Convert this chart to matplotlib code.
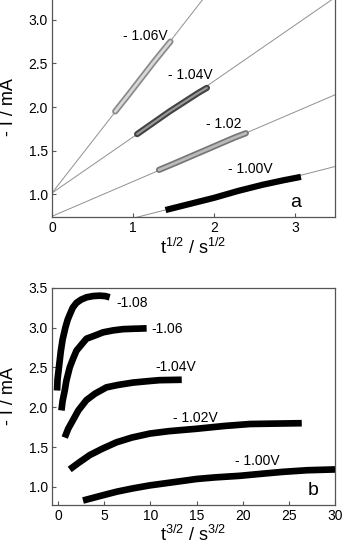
import matplotlib
matplotlib.use('Agg')
import matplotlib.pyplot as plt
import matplotlib.patheffects as pe
import numpy as np

plt.rcParams['font.family'] = ['Liberation Sans', 'DejaVu Sans']

# panel a: -I vs t^1/2 (data bands) with fitted lines
a106_x = [0.78, 0.95, 1.10, 1.25, 1.38, 1.46]
a106_y = [1.95, 2.15, 2.33, 2.51, 2.66, 2.75]
a104_x = [1.05, 1.25, 1.45, 1.65, 1.80, 1.91]
a104_y = [1.69, 1.82, 1.95, 2.07, 2.16, 2.22]
a102_x = [1.32, 1.55, 1.80, 2.05, 2.25, 2.39]
a102_y = [1.28, 1.37, 1.47, 1.57, 1.65, 1.70]
a100_x = [1.40, 1.70, 2.00, 2.30, 2.60, 2.85, 3.07]
a100_y = [0.82, 0.89, 0.96, 1.04, 1.11, 1.16, 1.20]

# fitted lines: intercept, slope
fit_intercepts = [1.015, 1.015, 0.748, 0.488]
fit_slopes = [1.193, 0.642, 0.399, 0.238]

# panel b: -I vs t^3/2
b108_x = [-0.1, -0.05, 0.1, 0.3, 0.5, 0.8, 1.05, 1.3, 1.6, 2.0, 2.5, 3.1, 3.8, 4.5, 5.1, 5.6]
b108_y = [2.21, 2.35, 2.50, 2.70, 2.85, 3.00, 3.10, 3.17, 3.25, 3.31, 3.35, 3.38, 3.395, 3.40, 3.395, 3.38]
b106_x = [0.37, 0.5, 0.73, 0.9, 1.27, 1.6, 2.0, 2.5, 3.08, 4.0, 4.88, 6.0, 7.05, 8.2, 9.6]
b106_y = [1.96, 2.08, 2.21, 2.33, 2.50, 2.60, 2.71, 2.78, 2.86, 2.90, 2.94, 2.965, 2.98, 2.985, 2.99]
b104_x = [0.73, 1.1, 1.63, 2.2, 3.08, 4.0, 5.25, 6.5, 8.14, 10.0, 11.0, 13.4]
b104_y = [1.62, 1.73, 1.84, 1.96, 2.09, 2.17, 2.25, 2.28, 2.31, 2.33, 2.34, 2.345]
b102_x = [1.27, 2.2, 3.44, 4.8, 6.33, 8.0, 9.95, 12.0, 15.0, 18.0, 20.8, 23.5, 26.4]
b102_y = [1.22, 1.30, 1.40, 1.48, 1.56, 1.62, 1.67, 1.70, 1.73, 1.765, 1.79, 1.795, 1.80]
b100_x = [2.71, 4.5, 6.33, 8.0, 9.95, 12.5, 15.0, 17.0, 19.7, 22.0, 24.4, 27.0, 30.0]
b100_y = [0.83, 0.885, 0.94, 0.98, 1.02, 1.06, 1.10, 1.12, 1.14, 1.165, 1.19, 1.21, 1.22]

fig = plt.figure(figsize=(3.43, 5.52), dpi=100)
ax1 = fig.add_axes([52/343, 335/552, 283/343, 219/552])
ax2 = fig.add_axes([52/343, 46.7/552, 283/343, 217.6/552])

for ax in (ax1, ax2):
    for s in ax.spines.values():
        s.set_color('#555555')
        s.set_linewidth(0.9)
    ax.tick_params(direction='in', length=3, width=0.8, color='#555555',
                   labelsize=10, pad=3)

# panel a
xx = np.array([0, 3.5])
for b0, m in zip(fit_intercepts, fit_slopes):
    ax1.plot(xx, b0 + m*xx, color='#909090', lw=0.7, zorder=1)

def band(ax, x, y, edge, face, w_out, w_in):
    ax.plot(x, y, color=face, lw=w_in, solid_capstyle='round', zorder=3,
            path_effects=[pe.Stroke(linewidth=w_out, foreground=edge), pe.Normal()])

band(ax1, a106_x, a106_y, '#8a8a8a', '#d8d8d8', 4.5, 2)
band(ax1, a104_x, a104_y, '#444444', '#9a9a9a', 4.5, 1.5)
band(ax1, a102_x, a102_y, '#777777', '#bbbbbb', 4.5, 2)
ax1.plot(a100_x, a100_y, color='black', lw=4.5, solid_capstyle='butt', zorder=3)

ax1.set_xlim(0, 3.49)
ax1.set_ylim(0.74, 3.25)
ax1.set_xticks([0, 1, 2, 3])
ax1.set_yticks([1.0, 1.5, 2.0, 2.5, 3.0])
ax1.set_yticklabels(['1.0', '1.5', '2.0', '2.5', '3.0'])
ax1.set_xlabel(r'$\mathregular{t^{1/2}}$ / $\mathregular{s^{1/2}}$', fontsize=13, labelpad=2)
ax1.set_ylabel('- I / mA', fontsize=13, labelpad=8)

ax1.text(0.88, 2.77, '- 1.06V', fontsize=10)
ax1.text(1.43, 2.32, '- 1.04V', fontsize=10)
ax1.text(1.90, 1.76, '- 1.02', fontsize=10)
ax1.text(2.17, 1.24, '- 1.00V', fontsize=10)
ax1.text(3.0, 0.91, 'a', fontsize=14, ha='center', va='center')

# panel b
for x, y in [(b108_x, b108_y), (b106_x, b106_y), (b104_x, b104_y),
             (b102_x, b102_y), (b100_x, b100_y)]:
    ax2.plot(x, y, color='black', lw=4.8, solid_capstyle='butt',
             solid_joinstyle='round', zorder=3)

ax2.set_xlim(-0.65, 30)
ax2.set_ylim(0.77, 3.5)
ax2.set_xticks([0, 5, 10, 15, 20, 25, 30])
ax2.set_yticks([1.0, 1.5, 2.0, 2.5, 3.0, 3.5])
ax2.set_yticklabels(['1.0', '1.5', '2.0', '2.5', '3.0', '3.5'])
ax2.set_xlabel(r'$\mathregular{t^{3/2}}$ / $\mathregular{s^{3/2}}$', fontsize=13, labelpad=1)
ax2.set_ylabel('- I / mA', fontsize=13, labelpad=8)

ax2.text(6.3, 3.31, '-1.08', fontsize=10, va='center')
ax2.text(10.1, 2.98, '-1.06', fontsize=10, va='center')
ax2.text(10.6, 2.50, '-1.04V', fontsize=10, va='center')
ax2.text(12.5, 1.86, '- 1.02V', fontsize=10, va='center')
ax2.text(19.2, 1.33, '- 1.00V', fontsize=10, va='center')
ax2.text(27.6, 0.95, 'b', fontsize=14, ha='center', va='center')

fig.savefig('out.png', dpi=100)
